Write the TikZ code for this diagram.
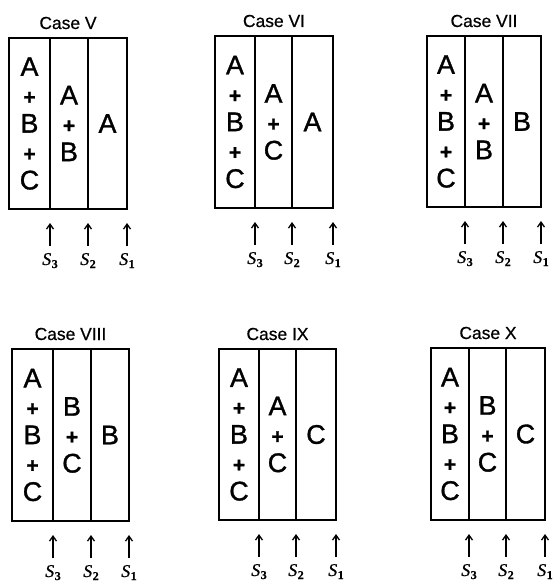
\documentclass[tikz,border=0pt]{standalone}
\usepackage{fontspec}
\newfontfamily\lettersf[FakeBold=1.2]{Liberation Sans}
\newfontfamily\titlesf[FakeBold=0.5]{Liberation Sans}
\newfontfamily\serifsf[FakeBold=0.8]{Liberation Serif}
\usetikzlibrary{arrows.meta}
\newcommand\plusmk{{\fontsize{21}{28.5}\selectfont\bfseries +}}
\newcommand\slabel[1]{\textit{S}\kern0.5bp\raisebox{-3bp}{\fontsize{12}{12}\selectfont\bfseries #1}}
\tikzset{
 colbox/.style={draw, line width=1.4bp, inner sep=0pt, outer sep=0pt, align=center,
   font=\lettersf\fontsize{27}{28.5}\selectfont},
 casetitle/.style={font=\titlesf\fontsize{17.5}{20}\selectfont, inner sep=0pt},
 slab/.style={font=\serifsf\fontsize{18}{20}\selectfont, inner sep=0pt, anchor=base},
 arr/.style={line width=1.3bp, -{Straight Barb[length=5bp,width=7bp]}}
}
\newcommand\casepanel[9]{%
 \pgfmathsetmacro\pcA{(#2+#3)/2}%
 \pgfmathsetmacro\pcB{(#3+#4)/2}%
 \pgfmathsetmacro\pcC{(#4+#5)/2}%
 \pgfmathsetmacro\pwA{#3-#2}%
 \pgfmathsetmacro\pwB{#4-#3}%
 \pgfmathsetmacro\pwC{#5-#4}%
 \pgfmathsetmacro\pcY{(#6+#7)/2}%
 \pgfmathsetmacro\pH{#7-#6}%
 \pgfmathsetmacro\pcX{(#2+#5)/2}%
 \node[colbox, minimum width=\pwA bp, minimum height=\pH bp] (#1-a) at (\pcA,\pcY) {A\\\plusmk\\B\\\plusmk\\C};
 \node[colbox, minimum width=\pwB bp, minimum height=\pH bp] (#1-b) at (\pcB,\pcY) {#8};
 \node[colbox, minimum width=\pwC bp, minimum height=\pH bp] (#1-c) at (\pcC,\pcY) {#9};
 \node[casetitle] (#1-t) at (\pcX,#6-15) {Case #1};
 \foreach \xx/\kk in {#3/3,#4/2,#5/1}{
   \coordinate (#1-h\kk) at (\xx,#7+14);
   \coordinate (#1-e\kk) at (\xx,#7+37);
   \draw[arr] (#1-e\kk) -- (#1-h\kk);
   \node[slab] (#1-s\kk) at (\xx,#7+56) {\slabel{\kk}};
 }
}
\begin{document}
\begin{tikzpicture}[x=1bp,y=-1bp]
\useasboundingbox (0,0) rectangle (553,582);
\casepanel{V}{9}{50}{88}{127}{38}{209}{A\\\plusmk\\B}{A}
\casepanel{VI}{215}{255}{292}{333}{36}{208}{A\\\plusmk\\C}{A}
\casepanel{VII}{427}{465}{503}{541}{36}{207}{A\\\plusmk\\B}{B}
\casepanel{VIII}{12}{53}{91}{129}{349}{521}{B\\\plusmk\\C}{B}
\casepanel{IX}{219}{259}{296}{336}{349}{520}{A\\\plusmk\\C}{C}
\casepanel{X}{431}{469}{506}{545}{348}{520}{B\\\plusmk\\C}{C}
\end{tikzpicture}
\end{document}
